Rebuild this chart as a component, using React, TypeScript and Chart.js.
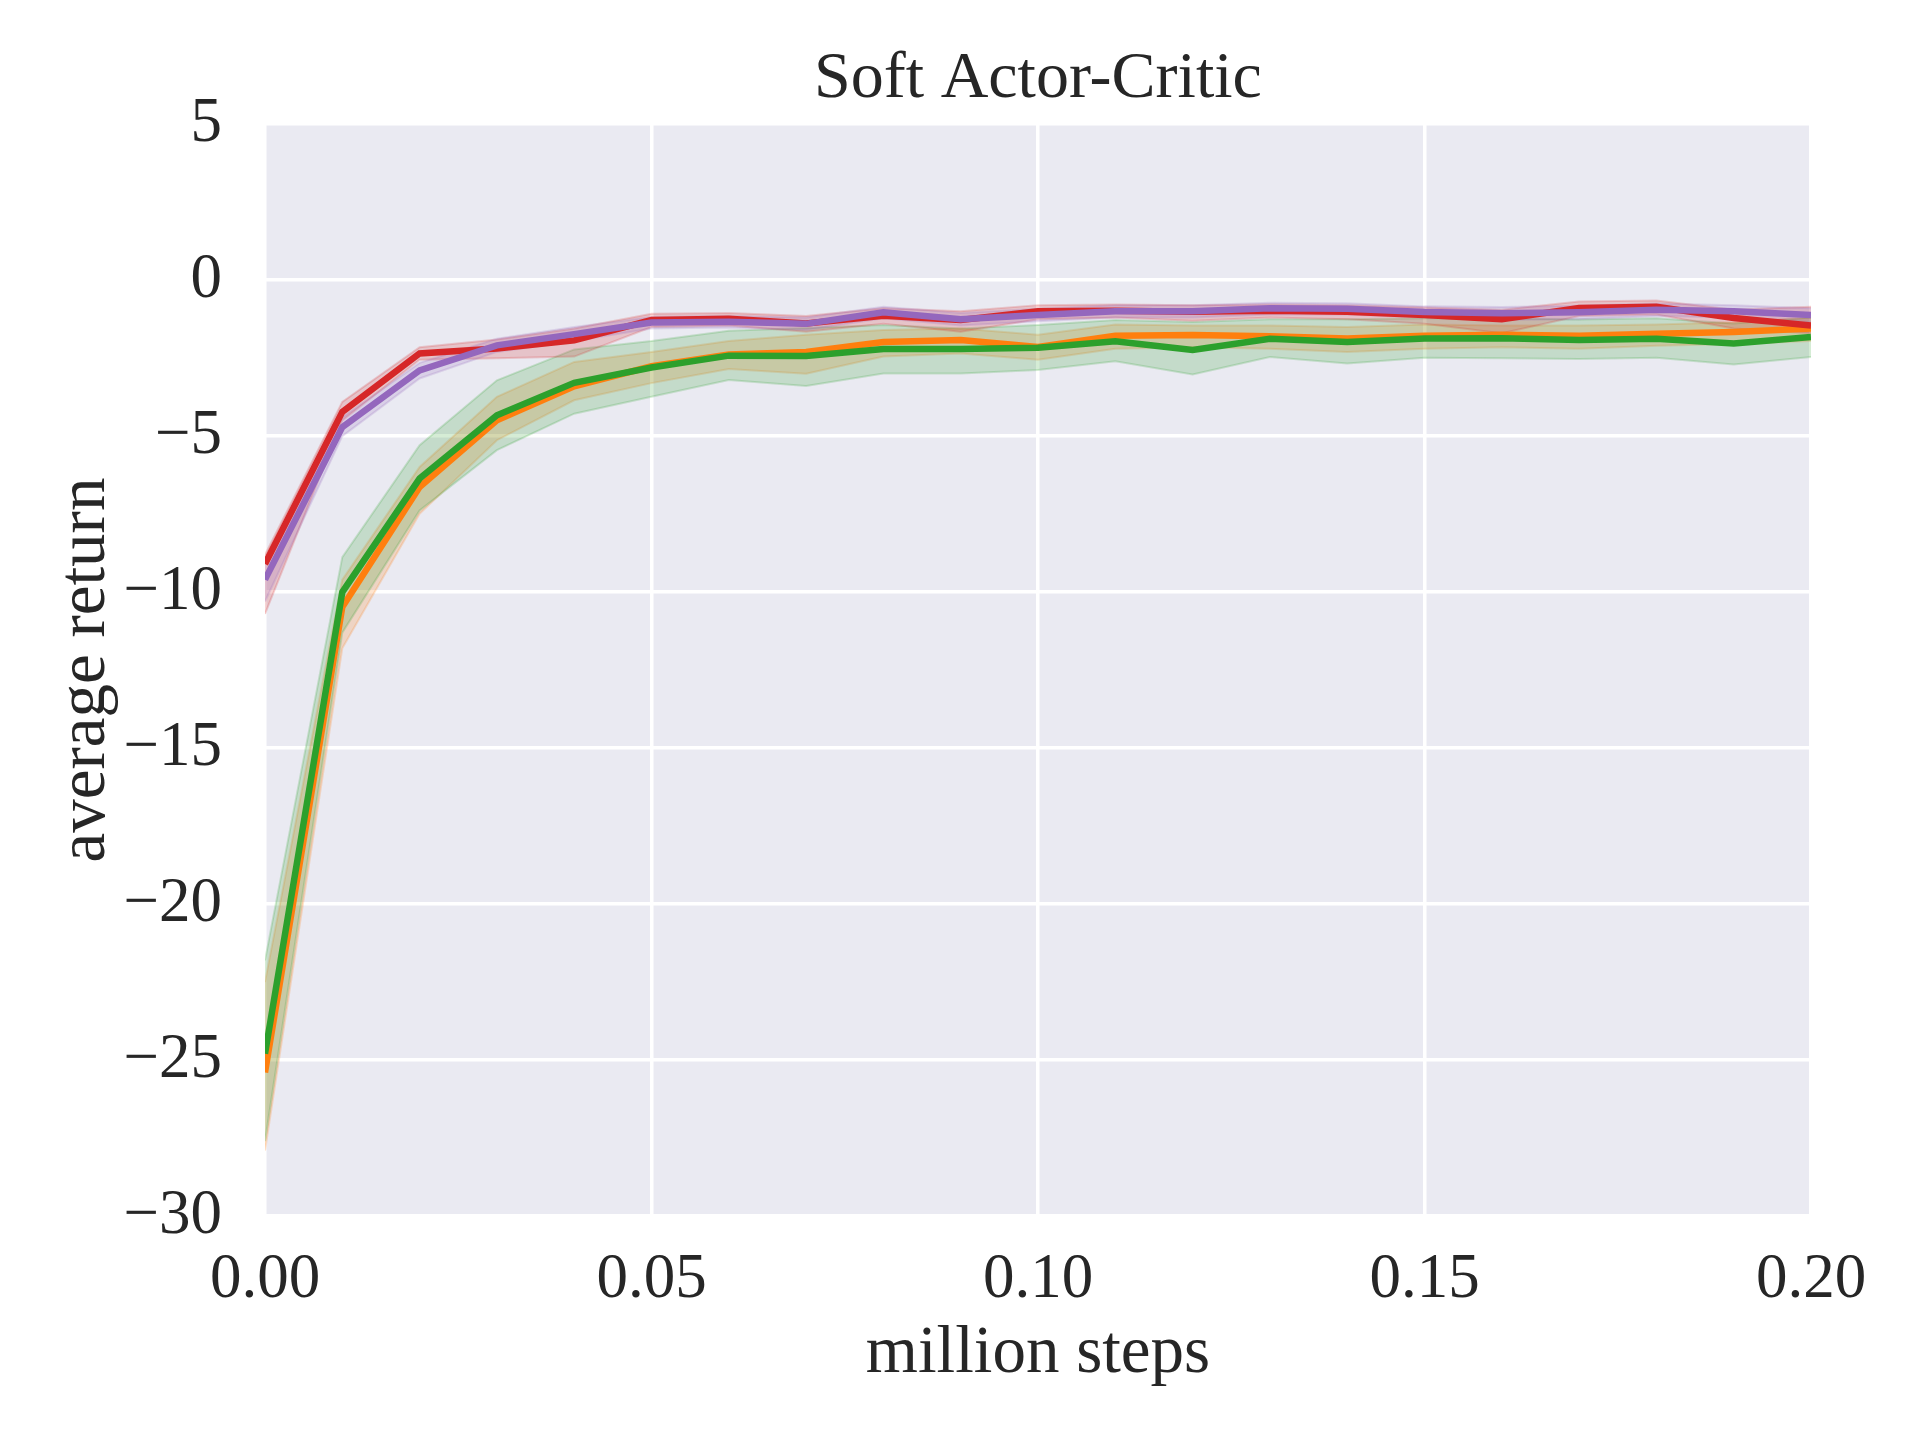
import React, { useEffect, useRef } from 'react';
import { Chart, registerables } from 'chart.js';

Chart.register(...registerables);

const steps = [0, 0.01, 0.02, 0.03, 0.04, 0.05, 0.06, 0.07, 0.08, 0.09, 0.1, 0.11, 0.12, 0.13, 0.14, 0.15, 0.16, 0.17, 0.18, 0.19, 0.2];

const orangeMean = [-25.4, -10.48, -6.63, -4.49, -3.4, -2.76, -2.38, -2.3, -1.98, -1.92, -2.14, -1.78, -1.76, -1.8, -1.87, -1.78, -1.75, -1.78, -1.72, -1.66, -1.55];
const orangeLow = [-27.9, -11.8, -7.49, -5.13, -3.85, -3.3, -2.85, -3.0, -2.45, -2.35, -2.55, -2.2, -2.15, -2.2, -2.3, -2.2, -2.15, -2.2, -2.1, -2.05, -1.95];
const orangeHigh = [-22.5, -9.6, -5.99, -3.74, -2.62, -2.3, -1.95, -1.75, -1.6, -1.55, -1.75, -1.42, -1.45, -1.45, -1.5, -1.42, -1.45, -1.45, -1.42, -1.35, -1.2];

const greenMean = [-24.8, -10.0, -6.36, -4.33, -3.29, -2.8, -2.42, -2.43, -2.21, -2.21, -2.17, -1.96, -2.24, -1.88, -1.98, -1.87, -1.86, -1.92, -1.88, -2.03, -1.82];
const greenLow = [-27.6, -11.3, -7.38, -5.45, -4.28, -3.74, -3.2, -3.39, -2.99, -2.99, -2.88, -2.6, -3.02, -2.46, -2.67, -2.49, -2.5, -2.53, -2.49, -2.7, -2.46];
const greenHigh = [-21.8, -8.88, -5.29, -3.21, -2.22, -1.95, -1.62, -1.53, -1.44, -1.55, -1.44, -1.28, -1.34, -1.25, -1.25, -1.22, -1.22, -1.26, -1.22, -1.39, -1.2];

const redMean = [-9.1, -4.22, -2.35, -2.19, -1.93, -1.28, -1.24, -1.39, -1.14, -1.28, -1.0, -0.98, -1.01, -0.98, -1.01, -1.12, -1.25, -0.89, -0.85, -1.21, -1.45];
const redLow = [-10.7, -4.5, -2.55, -2.5, -2.45, -1.5, -1.45, -1.65, -1.4, -1.65, -1.25, -1.2, -1.3, -1.2, -1.25, -1.4, -1.7, -1.15, -1.1, -1.55, -1.7];
const redHigh = [-8.8, -3.9, -2.15, -1.9, -1.55, -1.08, -1.05, -1.15, -0.9, -1.0, -0.8, -0.78, -0.8, -0.78, -0.8, -0.88, -0.95, -0.68, -0.65, -0.95, -0.85];

const purpleMean = [-9.6, -4.71, -2.89, -2.09, -1.73, -1.36, -1.33, -1.4, -1.03, -1.25, -1.12, -1.0, -1.0, -0.9, -0.92, -1.02, -1.06, -1.03, -0.95, -1.0, -1.12];
const purpleLow = [-10.3, -5.0, -3.15, -2.3, -1.95, -1.55, -1.52, -1.6, -1.22, -1.45, -1.32, -1.2, -1.2, -1.1, -1.1, -1.2, -1.28, -1.25, -1.15, -1.2, -1.35];
const purpleHigh = [-9.0, -4.4, -2.65, -1.88, -1.5, -1.18, -1.15, -1.2, -0.85, -1.05, -0.92, -0.8, -0.8, -0.72, -0.74, -0.84, -0.86, -0.82, -0.75, -0.8, -0.9];

const FONT = '"Liberation Serif", "Times New Roman", serif';
const TEXT = '#262626';

const pts = (arr: number[]) => steps.map((x, i) => ({ x, y: arr[i] }));
const minus = (v: number) => (v < 0 ? '\u2212' + Math.abs(v) : String(v));

const series = [
  { mean: purpleMean, low: purpleLow, high: purpleHigh, rgb: '148,103,189' },
  { mean: redMean, low: redLow, high: redHigh, rgb: '214,39,40' },
  { mean: greenMean, low: greenLow, high: greenHigh, rgb: '44,160,44' },
  { mean: orangeMean, low: orangeLow, high: orangeHigh, rgb: '255,127,14' },
];

const bgPlugin = {
  id: 'plotBg',
  beforeDraw(chart: any) {
    const { ctx, chartArea } = chart;
    ctx.save();
    ctx.fillStyle = '#EAEAF2';
    ctx.fillRect(chartArea.left, chartArea.top, chartArea.right - chartArea.left, chartArea.bottom - chartArea.top);
    ctx.restore();
  },
};

const App: React.FC = () => {
  const canvasRef = useRef<HTMLCanvasElement>(null);
  const chartRef = useRef<Chart>();

  useEffect(() => {
    if (!canvasRef.current) return;

    const datasets: any[] = [];
    // lines on top (low order), bands below
    series.forEach((s, k) => {
      datasets.push({
        data: pts(s.mean),
        borderColor: `rgb(${s.rgb})`,
        borderWidth: 6.5,
        pointRadius: 0,
        fill: false,
        tension: 0,
        order: k + 1,
      });
    });
    series.forEach((s, k) => {
      const band = `rgba(${s.rgb},0.2)`;
      datasets.push({
        data: pts(s.low),
        borderColor: band,
        borderWidth: 2,
        pointRadius: 0,
        fill: false,
        order: 10 + k,
      });
      datasets.push({
        data: pts(s.high),
        borderColor: band,
        backgroundColor: band,
        borderWidth: 2,
        pointRadius: 0,
        fill: '-1',
        order: 10 + k,
      });
    });

    chartRef.current = new Chart(canvasRef.current, {
      type: 'line',
      data: { datasets },
      plugins: [bgPlugin],
      options: {
        animation: false,
        responsive: false,
        devicePixelRatio: 1,
        layout: { padding: { left: 0, right: 109, top: 0, bottom: 0 } },
        plugins: {
          legend: { display: false },
          tooltip: { enabled: false },
          title: {
            display: true,
            fullSize: false,
            text: 'Soft Actor-Critic',
            color: TEXT,
            font: { family: FONT, size: 66, weight: 'normal' },
            padding: { top: 40, bottom: 5 },
          },
        },
        scales: {
          x: {
            type: 'linear',
            min: 0,
            max: 0.2,
            border: { display: false },
            grid: { color: '#ffffff', lineWidth: 3.5, drawTicks: false },
            ticks: {
              stepSize: 0.05,
              padding: 27,
              color: TEXT,
              font: { family: FONT, size: 63 },
              callback: (v: any) => Number(v).toFixed(2),
            },
            title: {
              display: true,
              text: 'million steps',
              color: TEXT,
              font: { family: FONT, size: 67 },
              padding: { top: 0, bottom: 45 },
            },
            afterFit: (scale: any) => {
              scale.height = 224;
            },
          },
          y: {
            min: -30,
            max: 5,
            border: { display: false },
            grid: { color: '#ffffff', lineWidth: 3.5, drawTicks: false },
            ticks: {
              stepSize: 5,
              padding: 43,
              color: TEXT,
              font: { family: FONT, size: 63 },
              callback: (v: any) => minus(Number(v)),
            },
            title: {
              display: true,
              text: 'average return',
              color: TEXT,
              font: { family: FONT, size: 67 },
              padding: { top: 46, bottom: 0 },
            },
            afterFit: (scale: any) => {
              scale.width = 265;
            },
          },
        },
      },
    });

    return () => {
      if (chartRef.current) {
        chartRef.current.destroy();
      }
    };
  }, []);

  return (
    <div style={{ position: 'absolute', left: 0, top: 0, width: 1920, height: 1440, background: '#ffffff' }}>
      <canvas ref={canvasRef} width={1920} height={1440} />
    </div>
  );
};

export default App;
